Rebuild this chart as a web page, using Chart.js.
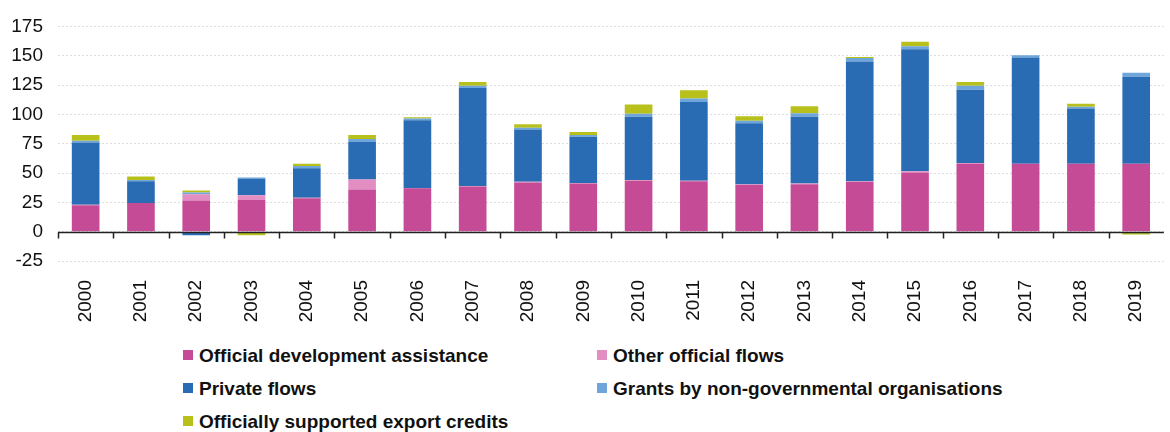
<!DOCTYPE html>
<html>
<head>
<meta charset="utf-8">
<script src="https://cdn.jsdelivr.net/npm/chart.js@4"></script>
<style>
    html, body { margin: 0; padding: 0; background: #fff; }
    body { width: 1170px; height: 432px; position: relative; overflow: hidden; font-family: 'Liberation Sans', Arial, sans-serif; }
    #chartBox { position: absolute; left: 0; top: 0; width: 1170px; height: 331px; }
    .legend-item { position: absolute; font-weight: bold; font-size: 19px; color: #111; line-height: 22px; white-space: nowrap; }
    .legend-item i { display: inline-block; width: 10px; height: 10px; margin-right: 6px; vertical-align: 2px; }
</style>
</head>
<body>
<div id="chartBox"><canvas id="flowsChart"></canvas></div>
<div id="legend"></div>
<script>
const years = ['2000', '2001', '2002', '2003', '2004', '2005', '2006', '2007', '2008', '2009',
    '2010', '2011', '2012', '2013', '2014', '2015', '2016', '2017', '2018', '2019'];

const seriesNames = [
    'Official development assistance',
    'Other official flows',
    'Private flows',
    'Grants by non-governmental organisations',
    'Officially supported export credits'
];

const oda = [22.5, 24.5, 26.5, 27, 28.5, 36, 37, 38.5, 42, 41, 43.5, 43, 40, 40.5, 42.5, 50.5, 58, 58, 58, 58];
const otherOfficial = [0.5, 0, 5.5, 4, 0.5, 8.5, -1, 0.5, 0.5, 0.5, 0.5, 0.5, 0.5, 0.5, 0.5, 1, 0.5, 0, 0, 0];
const privateFlows = [53, 18.5, -3, 14, 25, 32, 58, 83.5, 44.5, 39.5, 54, 67, 52, 57, 102, 104, 62.5, 90.5, 47, 74];
const ngoGrants = [1.5, 1, 1.5, 1.2, 2, 2.5, 1.5, 2, 1.5, 1.5, 2.5, 3, 2, 3, 3, 2.5, 3.5, 2, 1.5, 3.5];
const exportCredits = [5, 3, 1.5, -3, 2, 3.5, 1, 3, 3, 2.5, 8, 7, 4, 6, 1, 4, 3, 0, 2.5, -2.5];

const yTicks = [-25, 0, 25, 50, 75, 100, 125, 150, 175];

const colors = ['#c64b96', '#e28ec3', '#2a6cb3', '#6ea6dc', '#b8c11c'];
const values = [oda, otherOfficial, privateFlows, ngoGrants, exportCredits];

// garis nol hitam + tick kecil di batas kategori
const zeroLinePlugin = {
    id: 'zeroLine',
    afterDatasetsDraw: function(chart) {
        const ctx = chart.ctx;
        const x = chart.scales.x;
        const y = chart.scales.y;
        const y0 = Math.round(y.getPixelForValue(0)) + 0.5;
        const area = chart.chartArea;

        ctx.save();
        ctx.strokeStyle = '#222';
        ctx.lineWidth = 1.5;
        ctx.beginPath();
        ctx.moveTo(area.left, y0);
        ctx.lineTo(area.right, y0);
        for (let i = 0; i < years.length; i++) {
            let bx = i === 0 ? area.left : (x.getPixelForValue(i - 1) + x.getPixelForValue(i)) / 2;
            bx = Math.round(bx) + 0.5;
            ctx.moveTo(bx, y0);
            ctx.lineTo(bx, y0 + 6);
        }
        ctx.stroke();
        ctx.restore();
    }
};

const datasets = seriesNames.map(function(name, i) {
    return {
        label: name,
        data: values[i],
        backgroundColor: colors[i],
        borderWidth: 0,
        stack: 'flows'
    };
});

const tickFont = { family: "'Liberation Sans', Arial, sans-serif", size: 19 };

new Chart(document.getElementById('flowsChart'), {
    type: 'bar',
    data: { labels: years, datasets: datasets },
    options: {
        responsive: true,
        maintainAspectRatio: false,
        animation: false,
        layout: { padding: { top: 23, right: 0, left: 0, bottom: 0 } },
        datasets: {
            bar: { categoryPercentage: 1, barPercentage: 0.5 }
        },
        plugins: {
            legend: { display: false },
            tooltip: { enabled: false }
        },
        scales: {
            x: {
                stacked: true,
                grid: { display: false },
                border: { display: false },
                ticks: {
                    color: '#111',
                    font: tickFont,
                    minRotation: 90,
                    maxRotation: 90,
                    padding: 11,
                    autoSkip: false
                },
                afterFit: function(scale) { scale.height = 70; }
            },
            y: {
                stacked: true,
                min: -25,
                max: 175,
                afterBuildTicks: function(scale) {
                    scale.ticks = yTicks.map(function(v) { return { value: v }; });
                },
                grid: { color: '#dcdcdc', lineWidth: 1, drawTicks: false },
                border: { display: false, dash: [2, 2] },
                ticks: {
                    color: '#111',
                    font: tickFont,
                    padding: 15
                },
                afterFit: function(scale) { scale.width = 58; }
            }
        }
    },
    plugins: [zeroLinePlugin]
});

// legenda HTML dua kolom
const legendPos = [
    { left: 183, top: 345 },
    { left: 597, top: 345 },
    { left: 183, top: 378 },
    { left: 597, top: 378 },
    { left: 183, top: 411 }
];
const legend = document.getElementById('legend');
seriesNames.forEach(function(name, i) {
    const item = document.createElement('div');
    item.className = 'legend-item';
    item.style.left = legendPos[i].left + 'px';
    item.style.top = legendPos[i].top + 'px';
    item.innerHTML = '<i style="background:' + colors[i] + '"></i>' + name;
    legend.appendChild(item);
});
</script>
</body>
</html>
